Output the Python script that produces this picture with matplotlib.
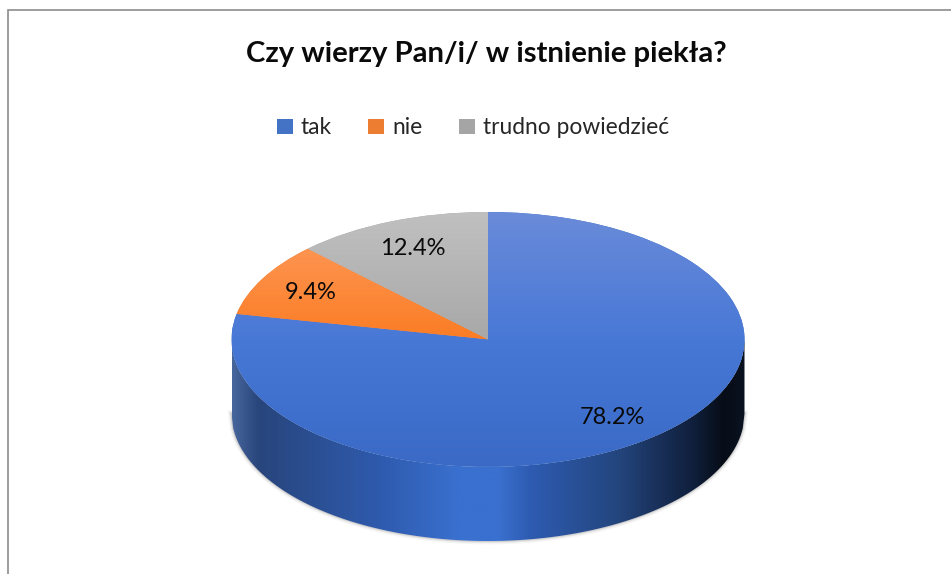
import numpy as np
import matplotlib
matplotlib.use("Agg")
import matplotlib.pyplot as plt
from matplotlib.colors import LinearSegmentedColormap
from matplotlib.patches import Patch, PathPatch, Rectangle
from matplotlib.path import Path

# data
title = "Czy wierzy Pan/i/ w istnienie piekła?"
categories = ["tak", "nie", "trudno powiedzieć"]
values = [78.2, 9.4, 12.4]
colors = ["#4472c4", "#ed7d31", "#a5a5a5"]

# top face shading, light at the back of the pie, darker at the front
top_shades = [
    ["#3a6ac6", "#4878d6", "#6a8bd9"],
    ["#f97414", "#fb7c24", "#ff9e62"],
    ["#989898", "#a8a8a8", "#c0c0c0"],
]
side_stops = [
    (0.0, "#47669c"), (0.05, "#28457c"), (0.3, "#2f5cb0"), (0.44, "#3a70cf"),
    (0.52, "#3a70cf"), (0.58, "#2e5cb2"), (0.75, "#24467f"), (0.9, "#101f3c"),
    (0.96, "#070d17"), (1.0, "#0a1220"),
]
depth = 74 / 127

plt.rcParams["font.family"] = ["Lato", "DejaVu Sans"]

W, H = 951, 574
fig = plt.figure(figsize=(W / 100, H / 100), dpi=100)
ax = fig.add_axes([231.5 / W, 33 / H, 513 / W, 329 / H])

wedges, texts, autotexts = ax.pie(
    values, colors=colors, startangle=90, counterclock=False, radius=1,
    autopct="%.1f%%", pctdistance=0.77, wedgeprops={"linewidth": 0},
    textprops={"fontsize": 17, "color": "#0a0a0a"},
)
ax.set_aspect("auto")
ax.set_xlim(-1, 1)
ax.set_ylim(-1 - depth, 1)

# gradient on each slice
ramp = np.linspace(0, 1, 256).reshape(-1, 1)
for w, shades in zip(wedges, top_shades):
    w.set_zorder(2)
    cmap = LinearSegmentedColormap.from_list("top", shades)
    im = ax.imshow(ramp, cmap=cmap, extent=(-1, 1, -1, 1), origin="lower",
                   aspect="auto", zorder=3, interpolation="bilinear")
    im.set_clip_path(w)
for t in autotexts:
    t.set_zorder(5)

# small nudges of the labels
px, py = autotexts[0].get_position()
autotexts[0].set_position((px, py - 0.015))
px, py = autotexts[1].get_position()
autotexts[1].set_position((px - 0.015, py))

# side wall of the disc
x = np.linspace(-1, 1, 300)
lower = -np.sqrt(1 - x ** 2)
verts = np.concatenate([
    np.column_stack([x, lower]),
    np.column_stack([x[::-1], lower[::-1] - depth]),
])
side_path = Path(np.vstack([verts, verts[0]]), closed=True)
side = PathPatch(side_path, facecolor="none", edgecolor="none", zorder=1)
ax.add_patch(side)
side_cmap = LinearSegmentedColormap.from_list("side", side_stops)
im = ax.imshow(np.linspace(0, 1, 512).reshape(1, -1), cmap=side_cmap,
               extent=(-1, 1, -1 - depth, 0), aspect="auto", zorder=1,
               interpolation="bilinear")
im.set_clip_path(side)

# soft shadow round the wall
for lw, a in [(5, 0.04), (3, 0.06), (1.5, 0.1)]:
    ax.plot(x, lower - depth, color="black", lw=lw, alpha=a, zorder=0, clip_on=False)

ax.set_xlim(-1, 1)
ax.set_ylim(-1 - depth, 1)

fig.text(486 / W, 1 - 54 / H, title, fontsize=21.1, fontweight="bold",
         color="#0a0a0a", ha="center", va="center")

handles = [Patch(facecolor=c, edgecolor="none") for c in colors]
fig.legend(handles, categories, ncols=3, frameon=False, fontsize=16.4,
           loc="center", bbox_to_anchor=(473 / W, 1 - 128 / H),
           handlelength=0.7, handleheight=0.7, handletextpad=0.35,
           columnspacing=1.6, labelcolor="#262626")

# chart frame, cut off by the image on the right and at the bottom
fig.add_artist(Rectangle((7.5 / W, -0.1), 1.1, 1.1 - 10.5 / H,
                         transform=fig.transFigure, facecolor="none",
                         edgecolor="#8c8c8c", lw=1.2))

fig.savefig("out.png", dpi=100)
